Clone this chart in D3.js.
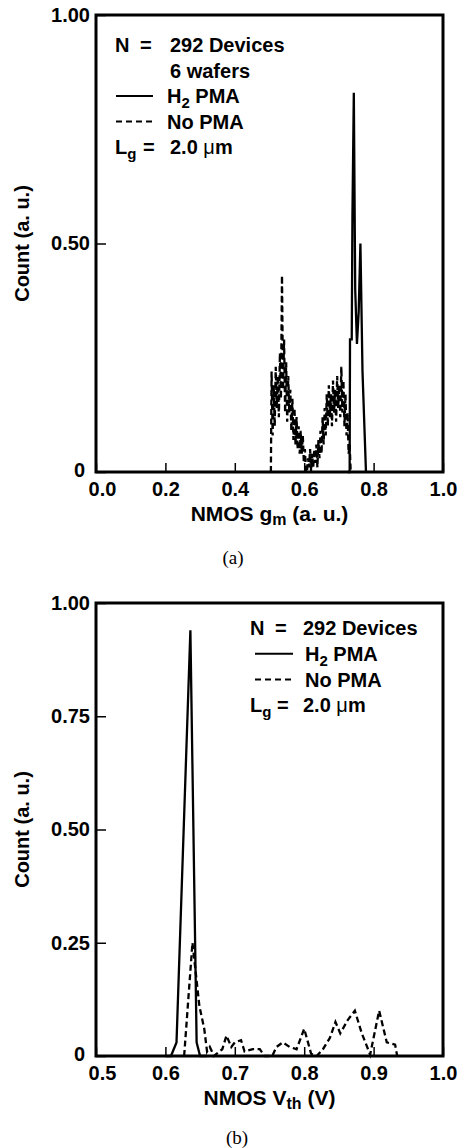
<!DOCTYPE html>
<html><head><meta charset="utf-8">
<script src="https://cdn.jsdelivr.net/npm/d3@7"></script>
<style>
body{margin:0;background:#fff}
svg{display:block}
text{font-family:"Liberation Sans",Arial,Helvetica,sans-serif;font-weight:bold;fill:#000}
.cap{font-family:"Liberation Serif","Times New Roman",serif;font-weight:normal}
</style></head><body>
<svg id="c" width="461" height="1148"></svg>
<script>
// ---------- DATA ----------
// Panel (a): NMOS gm histograms  [gm (a.u.), count (a.u.)]
const gmNoPMA = [[0.504,0],[0.506,0.22],[0.509,0.08],[0.512,0.19],[0.515,0.10],[0.518,0.23],[0.521,0.14],[0.524,0.21],[0.527,0.12],[0.530,0.26],[0.533,0.16],[0.536,0.43],[0.539,0.18],[0.542,0.29],[0.545,0.13],[0.548,0.24],[0.551,0.11],[0.554,0.21],[0.557,0.13],[0.560,0.18],[0.563,0.09],[0.566,0.16],[0.569,0.07],[0.572,0.14],[0.575,0.06],[0.578,0.12],[0.581,0.05],[0.584,0.10],[0.587,0.04],[0.590,0.09],[0.593,0.04],[0.596,0.08],[0.599,0.02],[0.602,0.05],[0.605,0],
  [0.608,0],[0.611,0.03],[0.614,0.01],[0.617,0.05],[0.620,0.00],[0.623,0.04],[0.626,0.01],[0.629,0.05],[0.632,0.02],[0.635,0.06],[0.638,0.01],[0.641,0.07],[0.644,0.03],[0.647,0.09],[0.650,0.04],[0.653,0.12],[0.656,0.06],[0.659,0.14],[0.662,0.08],[0.665,0.17],[0.668,0.10],[0.671,0.19],[0.674,0.12],[0.677,0.17],[0.680,0.10],[0.683,0.20],[0.686,0.13],[0.689,0.18],[0.692,0.11],[0.695,0.21],[0.698,0.14],[0.701,0.19],[0.704,0.12],[0.707,0.23],[0.710,0.13],[0.713,0.20],[0.716,0.10],[0.719,0.17],[0.722,0.08],[0.725,0.13],[0.728,0.04],[0.731,0.06],[0.734,0]];
const gmH2PMA = [[0.725,0],[0.731,0],[0.732,0.29],[0.737,0.29],[0.739,0.56],[0.743,0.83],[0.747,0.40],[0.752,0.28],[0.757,0.35],[0.762,0.50],[0.768,0.22],[0.778,0]];
const gmTicks = [0.0,0.2,0.4,0.6,0.8,1.0];
const gmTickLabels = ["0.0","0.2","0.4","0.6","0.8","1.0"];
const countTicksA = [0,0.5,1.0];
const countTickLabelsA = ["0","0.50","1.00"];

// Panel (b): NMOS Vth histograms  [Vth (V), count (a.u.)]
const vthH2PMA = [[0.600,0],[0.608,0],[0.616,0.03],[0.636,0.94],[0.645,0.03],[0.650,0],[0.660,0]];
const vthNoPMA = [[0.627,0],[0.639,0.25],[0.649,0.11],[0.656,0.06],[0.660,0.01],[0.664,0.02],[0.670,0],[0.682,0.015],[0.688,0.045],[0.695,0.02],[0.700,0.03],[0.709,0.035],[0.714,0.01],[0.726,0.015],[0.736,0.015],[0.743,0],[0.754,0],[0.760,0.02],[0.769,0.03],[0.779,0.02],[0.789,0.015],[0.800,0.06],[0.810,0.005],[0.818,0],[0.827,0.015],[0.837,0.04],[0.845,0.075],[0.852,0.05],[0.863,0.08],[0.873,0.10],[0.883,0.05],[0.895,0.003],[0.908,0.10],[0.919,0.03],[0.931,0.025],[0.934,0]];
const vthTicks = [0.5,0.6,0.7,0.8,0.9,1.0];
const vthTickLabels = ["0.5","0.6","0.7","0.8","0.9","1.0"];
const countTicksB = [0,0.25,0.5,0.75,1.0];
const countTickLabelsB = ["0","0.25","0.50","0.75","1.00"];

// ---------- DRAW ----------
const svg = d3.select("#c");
const FS = 20;

function panel(o){
  const g = svg.append("g");
  const x = d3.scaleLinear().domain(o.xDomain).range([o.left,o.right]);
  const y = d3.scaleLinear().domain([0,1]).range([o.bottom,o.top]);

  const xa = g.append("g").attr("transform",`translate(0,${o.bottom})`)
    .call(d3.axisBottom(x).tickValues(o.xTicks).tickFormat((d,i)=>o.xLabels[i]).tickSize(-9).tickPadding(10));
  const ya = g.append("g").attr("transform",`translate(${o.left},0)`)
    .call(d3.axisLeft(y).tickValues(o.yTicks).tickFormat((d,i)=>o.yLabels[i]).tickSize(-10).tickPadding(6));
  [xa,ya].forEach(a=>{
    a.select(".domain").remove();
    a.selectAll(".tick line").attr("stroke","#000").attr("stroke-width",1.5);
    a.selectAll(".tick text").attr("font-size",FS).attr("fill","#000")
      .attr("font-family",'"Liberation Sans",Arial,sans-serif').attr("font-weight","bold");
  });
  // the first x label and the "0" y label sit apart at the corner, as in the original
  xa.selectAll(".tick text").filter((d,i)=>i===0).attr("dx",6);
  ya.selectAll(".tick text").filter((d,i)=>i===0).attr("dx",-5).attr("dy","0.2em");

  const line = d3.line().x(d=>x(d[0])).y(d=>y(d[1]));
  g.append("path").datum(o.dashed).attr("d",line).attr("fill","none")
    .attr("stroke","#000").attr("stroke-width",2.3).attr("stroke-dasharray","6,3.5");
  g.append("path").datum(o.solid).attr("d",line).attr("fill","none")
    .attr("stroke","#000").attr("stroke-width",2.3);

  g.append("rect").attr("x",o.left).attr("y",o.top)
    .attr("width",o.right-o.left).attr("height",o.bottom-o.top)
    .attr("fill","none").attr("stroke","#000").attr("stroke-width",3);

  // y title
  g.append("text").attr("transform",`translate(22,${(o.top+o.bottom)/2}) rotate(-90)`)
    .attr("text-anchor","middle").attr("dy","0.35em").attr("font-size",FS).text("Count (a. u.)");
  // x title
  const xt = g.append("text").attr("x",(o.left+o.right)/2).attr("y",o.bottom+49)
    .attr("text-anchor","middle").attr("font-size",21);
  xt.append("tspan").text(o.xTitle[0]);
  xt.append("tspan").attr("font-size",16).attr("dy",4).text(o.xTitle[1]);
  xt.append("tspan").attr("dy",-4).text(o.xTitle[2]);
  // caption
  g.append("text").attr("class","cap").attr("x",o.capX).attr("y",o.capY)
    .attr("text-anchor","middle").attr("font-size",19).text(o.cap);

  // legend
  const L = o.leg; let r = 0;
  const rowY = i => L.y + i*L.dy;
  const t = (xx,yy,s)=>g.append("text").attr("x",xx).attr("y",yy).attr("dy","0.36em").attr("font-size",FS).text(s);
  t(L.x, rowY(r), "N"); t(L.eq, rowY(r), "="); t(L.val, rowY(r), "292 Devices"); r++;
  if(L.wafers){ t(L.val, rowY(r), "6 wafers"); r++; }
  g.append("line").attr("x1",L.lx1).attr("x2",L.lx2).attr("y1",rowY(r)).attr("y2",rowY(r)).attr("stroke","#000").attr("stroke-width",2);
  const h = t(L.lt, rowY(r), "H");
  h.append("tspan").attr("font-size",15).attr("dy",5).text("2");
  h.append("tspan").attr("dy",-5).text(" PMA"); r++;
  g.append("line").attr("x1",L.lx1).attr("x2",L.lx2).attr("y1",rowY(r)).attr("y2",rowY(r)).attr("stroke","#000").attr("stroke-width",2).attr("stroke-dasharray","6,4");
  t(L.lt, rowY(r), "No PMA"); r++;
  const lg = t(L.x, rowY(r), "L");
  lg.append("tspan").attr("font-size",15).attr("dy",5).text("g");
  t(L.eq2, rowY(r), "=");
  const v = t(L.val, rowY(r), "2.0 ");
  v.append("tspan").attr("font-weight","normal").text("\u03bc");
  v.append("tspan").text("m");
}

panel({left:96,right:443,top:15,bottom:472,xDomain:[0,1],xTicks:gmTicks,xLabels:gmTickLabels,
  yTicks:countTicksA,yLabels:countTickLabelsA,dashed:gmNoPMA,solid:gmH2PMA,
  xTitle:["NMOS g","m"," (a. u.)"],cap:"(a)",capX:233,capY:564,
  leg:{x:115,eq:140,eq2:143,val:170,lx1:116,lx2:153,lt:167,y:45,dy:25.5,wafers:true}});

panel({left:96,right:443,top:603,bottom:1056,xDomain:[0.5,1.0],xTicks:vthTicks,xLabels:vthTickLabels,
  yTicks:countTicksB,yLabels:countTickLabelsB,dashed:vthNoPMA,solid:vthH2PMA,
  xTitle:["NMOS V","th"," (V)"],cap:"(b)",capX:237,capY:1144,
  leg:{x:250,eq:275,eq2:277,val:303,lx1:255,lx2:293,lt:305,y:628,dy:25.7,wafers:false}});
</script></body></html>
